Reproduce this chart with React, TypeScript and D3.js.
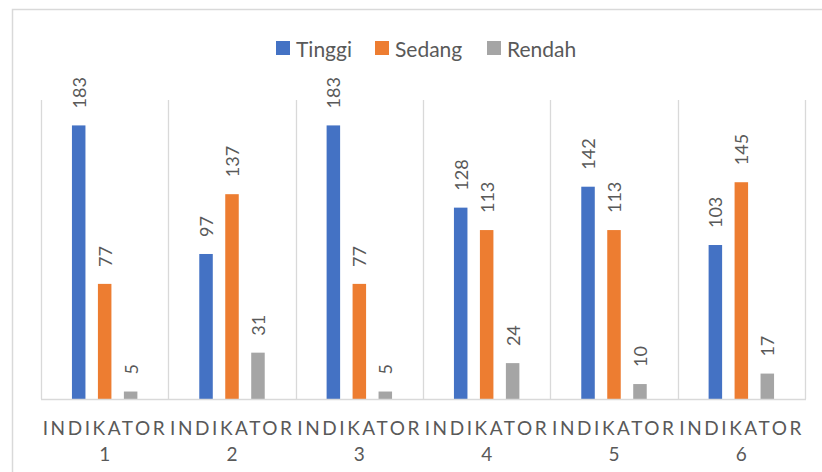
import React from "react";
import * as d3 from "d3";

const categories = ["INDIKATOR 1", "INDIKATOR 2", "INDIKATOR 3", "INDIKATOR 4", "INDIKATOR 5", "INDIKATOR 6"];
const seriesNames = ["Tinggi", "Sedang", "Rendah"];
const tinggi = [183, 97, 183, 128, 142, 103];
const sedang = [77, 137, 77, 113, 113, 145];
const rendah = [5, 31, 5, 24, 10, 17];
const colors = ["#4472C4", "#ED7D31", "#A5A5A5"];

const W = 822, H = 472;
const left = 41, right = 805, top = 100, bottom = 399;

export default function App() {
  const series = [tinggi, sedang, rendah];
  const x = d3.scaleBand<string>().domain(categories).range([left, right]).padding(0);
  const bw = x.bandwidth();
  const inner = d3.scaleBand<string>().domain(seriesNames).range([-bw * 0.257, bw * 0.257]).paddingInner(0.48).paddingOuter(0);
  const y = d3.scaleLinear().domain([0, 200]).range([bottom, top]);
  const barW = inner.bandwidth();
  const textCol = "#595959";
  const legendX = [276, 375, 487];
  const font = "Lato, 'Open Sans', sans-serif";

  return (
    <svg width={W} height={H} style={{ position: "absolute", left: 0, top: 0, background: "#fff" }}>
      <rect x={12.5} y={9.5} width={830} height={500} fill="#fff" stroke="#D9D9D9" strokeWidth={1.5} />
      {categories.map((c, i) => (
        <line key={"g" + i} x1={Math.round(x(c)!) + 0.5} x2={Math.round(x(c)!) + 0.5} y1={top} y2={bottom} stroke="#D9D9D9" strokeWidth={1.3} />
      ))}
      <line x1={right + 0.5} x2={right + 0.5} y1={top} y2={bottom} stroke="#D9D9D9" strokeWidth={1.3} />
      {series.map((vals, s) =>
        vals.map((v, i) => {
          const bx = x(categories[i])! + bw / 2 + inner(seriesNames[s])!;
          return (
            <g key={s + "-" + i}>
              <rect x={bx} y={y(v)} width={barW} height={bottom - y(v)} fill={colors[s]} />
              <text
                transform={`translate(${bx + barW / 2},${y(v) - 17}) rotate(-90)`}
                textAnchor="start"
                dominantBaseline="central"
                fontFamily={font}
                fontSize={18}
                fill={textCol}
              >
                {v}
              </text>
            </g>
          );
        })
      )}
      <line x1={left} x2={right + 1} y1={bottom + 0.5} y2={bottom + 0.5} stroke="#D9D9D9" strokeWidth={1.3} />
      {categories.map((c, i) => {
        const [w1, w2] = c.split(" ");
        const cx = x(c)! + bw / 2;
        return (
          <g key={"l" + i} fontFamily={font} fill={textCol} fontSize={19}>
            <text x={cx - 1} y={427} textAnchor="middle" dominantBaseline="central" textLength={122} lengthAdjust="spacing">
              {w1}
            </text>
            <text x={cx} y={453} textAnchor="middle" dominantBaseline="central">
              {w2}
            </text>
          </g>
        );
      })}
      {seriesNames.map((n, i) => (
        <g key={"lg" + i}>
          <rect x={legendX[i]} y={41} width={14} height={14} fill={colors[i]} />
          <text x={legendX[i] + 20} y={48} dominantBaseline="central" fontFamily={font} fontSize={21} fill={textCol}>
            {n}
          </text>
        </g>
      ))}
    </svg>
  );
}
